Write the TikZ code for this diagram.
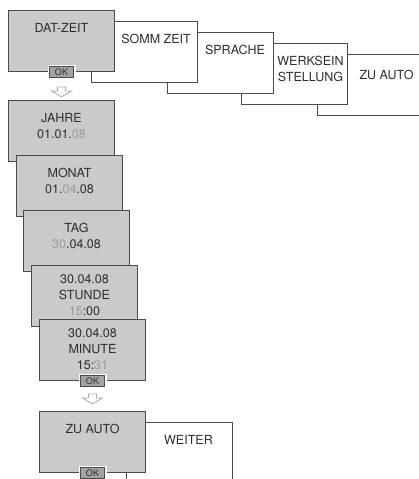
\documentclass[tikz,border=0pt]{standalone}
\usepackage{fontspec}
\setmainfont{TeX Gyre Heros}
\usepackage{xcolor}
\usepackage{tikz}
\usetikzlibrary{positioning}
\definecolor{boxgray}{HTML}{CACACC}
\definecolor{edgegray}{HTML}{4A4A4A}
\definecolor{okgray}{HTML}{A2A2A2}
\definecolor{txtgray}{HTML}{2E2E2E}
\definecolor{hlgray}{HTML}{9C9C9C}
\definecolor{arrowgray}{HTML}{ABABAB}
\newcommand{\hl}[1]{{\color{hlgray}#1}}

\tikzset{
    menubox/.style={draw=edgegray, line width=1pt, fill=white, anchor=north west,
        minimum width=106, minimum height=61, inner sep=0pt},
    setbox/.style={menubox, fill=boxgray},
    lbl/.style={text=txtgray, font=\fontsize{12.5}{16}\selectfont, align=center,
        inner sep=0pt, anchor=north},
    okbtn/.style={draw=edgegray, fill=okgray, line width=0.8pt,
        preaction={draw=white, line width=4pt}, minimum width=24, minimum height=11,
        inner sep=0pt, text=txtgray, font=\fontsize{9}{9}\selectfont},
    hollow/.style={draw=arrowgray, fill=white, line width=0.8pt, line join=miter}
}

\begin{document}
\begin{tikzpicture}[x=1pt, y=-1pt]

    \useasboundingbox (0,0) rectangle (419,479);
    \clip (0,0) rectangle (419,479);

    \node[menubox] (zuauto) at (317,54) {};
    \node[menubox] (werksein) at (241,43) {};
    \node[menubox] (sprache) at (167,32) {};
    \node[menubox] (sommzeit) at (91,21) {};
    \node[setbox] (datzeit) at (8,10) {};

    \node[lbl, below=13pt of datzeit.north] (tdatzeit) {DAT-ZEIT};
    \node[lbl] (tsommzeit) at (156,34) {SOMM ZEIT};
    \node[lbl] (tsprache) at (235,45) {SPRACHE};
    \node[lbl] (twerksein) at (310.5,56) {WERKSEIN\\STELLUNG};
    \node[lbl] (tzuauto) at (386.5,69.5) {ZU AUTO};

    \node[okbtn] (okdat) at (datzeit.south) {OK};
    \coordinate (arrdat) at ([yshift=-9pt]okdat.south);
    \draw[hollow] (arrdat) ++(-4,0) -- ++(8,0) -- ++(0,4) -- ++(6,0) -- ++(-10,6)
        -- ++(-10,-6) -- ++(6,0) -- cycle;

    \node[setbox] (jahre) at (8,100) {};
    \node[lbl, below=13pt of jahre.north] (tjahre) {JAHRE\\01.01.\hl{08}};
    \node[setbox] (monat) at (16,155) {};
    \node[lbl, below=13pt of monat.north] (tmonat) {MONAT\\01.\hl{04}.08};
    \node[setbox] (tag) at (23,210) {};
    \node[lbl, below=13pt of tag.north] (ttag) {TAG\\\hl{30}.04.08};
    \node[setbox] (stunde) at (31,265) {};
    \node[lbl, below=9pt of stunde.north] (tstunde) {30.04.08\\STUNDE\\\hl{15}:00};
    \node[setbox] (minute) at (39,319) {};
    \node[lbl, below=9pt of minute.north] (tminute) {30.04.08\\MINUTE\\15:\hl{31}};

    \node[okbtn] (okmin) at (minute.south) {OK};
    \coordinate (arrmin) at ([yshift=-7pt]okmin.south);
    \draw[hollow] (arrmin) ++(-4,0) -- ++(8,0) -- ++(0,4) -- ++(6,0) -- ++(-10,6)
        -- ++(-10,-6) -- ++(6,0) -- cycle;

    \node[menubox] (weiter) at (126,422) {};
    \node[lbl] (tweiter) at (188.5,435) {WEITER};
    \node[setbox] (zuautob) at (39,411) {};
    \node[lbl, below=13pt of zuautob.north] (tzuautob) {ZU AUTO};
    \node[okbtn] (okauto) at (zuautob.south) {OK};

\end{tikzpicture}
\end{document}
